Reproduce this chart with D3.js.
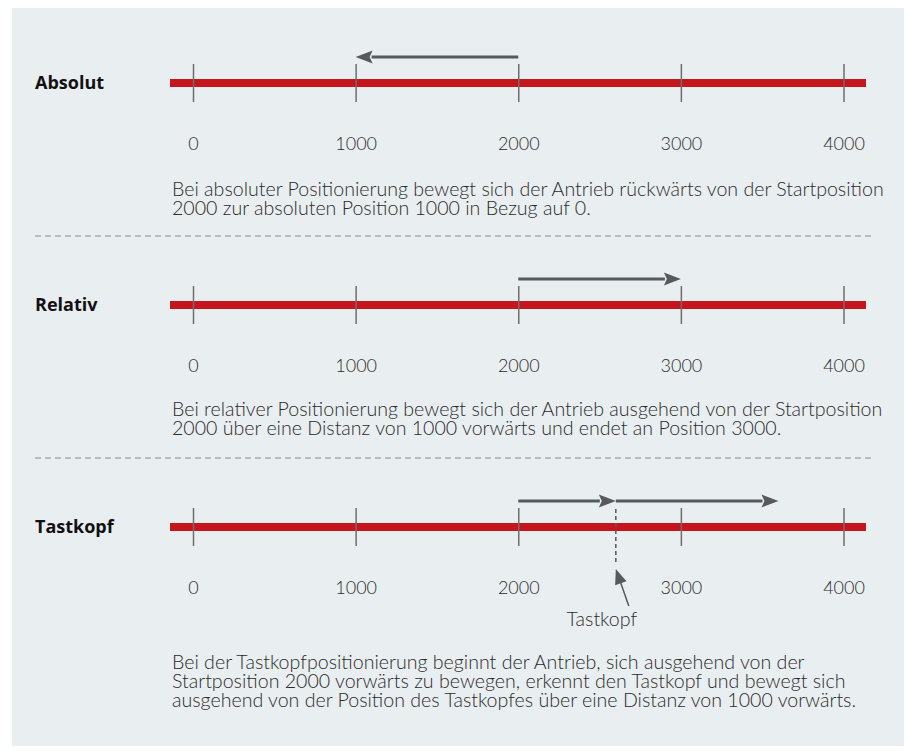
<!DOCTYPE html>
<html><head><meta charset="utf-8">
<script src="https://cdn.jsdelivr.net/npm/d3@7"></script>
<style>
html,body{margin:0;padding:0;background:#fff;}
svg{display:block;font-family:"Lato","Open Sans",sans-serif;}
</style></head>
<body><svg id="c" width="906" height="751"></svg>
<script>
const ticks = [0, 1000, 2000, 3000, 4000];
const rowLabels = ["Absolut", "Relativ", "Tastkopf"];
const moves = [
  [{from: 2000, to: 1000}],
  [{from: 2000, to: 3000}],
  [{from: 2000, to: 2600}, {from: 2600, to: 3600}]
];
const probePos = 2600;
const probeLabel = "Tastkopf";
const descriptions = [
  ["Bei absoluter Positionierung bewegt sich der Antrieb rückwärts von der Startposition",
   "2000 zur absoluten Position 1000 in Bezug auf 0."],
  ["Bei relativer Positionierung bewegt sich der Antrieb ausgehend von der Startposition",
   "2000 über eine Distanz von 1000 vorwärts und endet an Position 3000."],
  ["Bei der Tastkopfpositionierung beginnt der Antrieb, sich ausgehend von der",
   "Startposition 2000 vorwärts zu bewegen, erkennt den Tastkopf und bewegt sich",
   "ausgehend von der Position des Tastkopfes über eine Distanz von 1000 vorwärts."]
];

const svg = d3.select("#c");
const x = d3.scaleLinear().domain([0, 4000]).range([193, 843.5]);
const rowY = d3.scaleLinear().domain([0, 1]).range([83, 305]);
const dark = "#58595b", red = "#c4161c", txt = "#2b2b2b";
const FS = 18, DFS = 19.6;

svg.append("rect").attr("x", 12).attr("y", 8).attr("width", 892).attr("height", 738).attr("fill", "#e9eef1");

function arrow(g, x1, x2, y) {
  const dir = x2 > x1 ? 1 : -1, hl = 17, hw = 6.5;
  g.append("line").attr("x1", x1).attr("x2", x2 - dir * hl + dir).attr("y1", y).attr("y2", y)
    .attr("stroke", dark).attr("stroke-width", 3);
  g.append("path").attr("d", `M${x2},${y}L${x2 - dir * hl},${y - hw}L${x2 - dir * hl + dir * 3},${y}L${x2 - dir * hl},${y + hw}Z`)
    .attr("fill", dark);
}

rowLabels.forEach((lab, i) => {
  const cy = rowY(i);
  const g = svg.append("g");
  g.append("text").attr("x", 35).attr("y", cy + 6).attr("font-weight", 700).attr("font-size", 18)
    .attr("font-family", "Open Sans")
    .attr("fill", "#111").text(lab);
  g.append("rect").attr("x", 170).attr("y", cy - 4).attr("width", 696).attr("height", 8).attr("fill", red);
  const axis = d3.axisBottom(x).tickValues(ticks).tickSize(0).tickPadding(0).tickFormat(d3.format("d"));
  const ag = g.append("g").attr("transform", `translate(0,${cy})`).call(axis);
  ag.select(".domain").remove();
  ag.selectAll(".tick line").attr("y1", -19).attr("y2", 19).attr("stroke", "#6d6e71").attr("stroke-width", 1.5);
  ag.selectAll(".tick text").attr("y", 67).attr("dy", 0).attr("font-size", FS).attr("font-family", "Lato")
    .attr("font-weight", 300).attr("fill", txt);
  moves[i].forEach(m => arrow(g, x(m.from), x(m.to), cy - 26));
  const d = descriptions[i];
  const base = i === 2 ? cy + 142 : cy + 113 - (i === 1 ? 2 : 0);
  const t = g.append("text").attr("font-size", DFS).attr("font-weight", 300).attr("fill", txt);
  d.forEach((line, j) => {
    t.append("tspan").attr("x", 172).attr("y", base + j * 19).text(line);
  });
  if (i < 2) {
    svg.append("line").attr("x1", 35).attr("x2", 875).attr("y1", cy + 153).attr("y2", cy + 153)
      .attr("stroke", "#8a8c8e").attr("stroke-width", 1).attr("stroke-dasharray", "6,4");
  }
  if (i === 2) {
    const px = x(probePos);
    g.append("line").attr("x1", px).attr("x2", px).attr("y1", cy - 18).attr("y2", cy + 35)
      .attr("stroke", dark).attr("stroke-width", 1.5).attr("stroke-dasharray", "4,3");
    const tx = px, ty = cy + 42, sx = px + 13, sy = cy + 79;
    const ang = Math.atan2(ty - sy, tx - sx), hl = 15, hw = 6;
    const bx = tx - hl * Math.cos(ang), by = ty - hl * Math.sin(ang);
    g.append("line").attr("x1", sx).attr("y1", sy).attr("x2", bx + 2 * Math.cos(ang)).attr("y2", by + 2 * Math.sin(ang))
      .attr("stroke", dark).attr("stroke-width", 1.5);
    g.append("path").attr("d", `M${tx},${ty}L${bx - hw * Math.sin(ang)},${by + hw * Math.cos(ang)}L${bx + hw * Math.sin(ang)},${by - hw * Math.cos(ang)}Z`)
      .attr("fill", dark);
    g.append("text").attr("x", px - 14).attr("y", cy + 99).attr("text-anchor", "middle").attr("font-size", DFS)
      .attr("font-weight", 300).attr("fill", txt).text(probeLabel);
  }
});
</script></body></html>
